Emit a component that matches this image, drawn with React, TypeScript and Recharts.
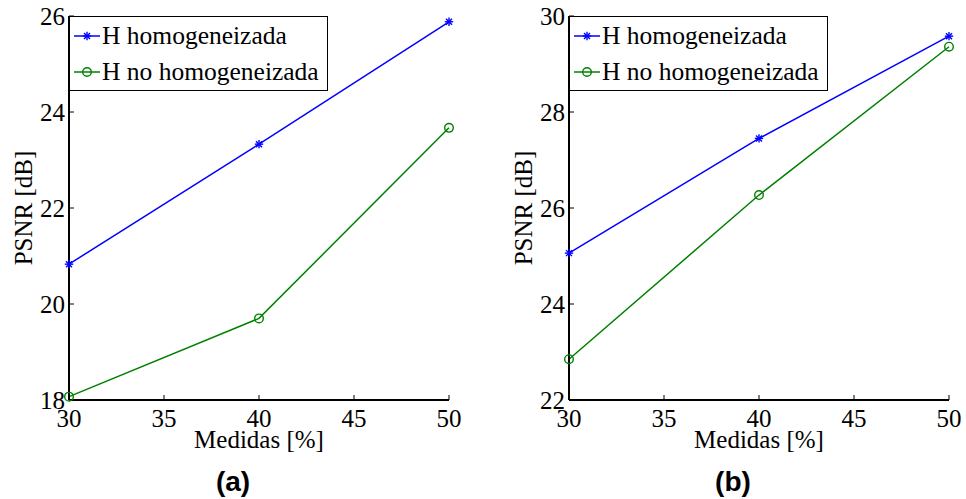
import React from 'react';
import { LineChart, Line, XAxis, YAxis, Legend } from 'recharts';

// values
const medidas = [30, 40, 50];
const homogA = [20.83, 23.33, 25.88];
const noHomogA = [18.07, 19.7, 23.67];
const homogB = [25.06, 27.45, 29.58];
const noHomogB = [22.85, 26.27, 29.36];

const xTicks = [30, 35, 40, 45, 50];
const yTicksA = [18, 20, 22, 24, 26];
const yTicksB = [22, 24, 26, 28, 30];

const BLUE = '#0000ff';
const GREEN = '#008000';
const FONT = "'Liberation Serif', 'Times New Roman', serif";

const series = [
  { key: 'homog', name: 'H homogeneizada', color: BLUE, marker: 'star' },
  { key: 'noHomog', name: 'H no homogeneizada', color: GREEN, marker: 'circle' },
];

const buildRows = (homog: number[], noHomog: number[]) =>
  medidas.map((x, i) => ({ x, homog: homog[i], noHomog: noHomog[i] }));

const Marker = ({ cx, cy, color, type }: any) => {
  if (cx == null || cy == null) return null;
  if (type === 'circle') {
    return <circle cx={cx} cy={cy} r={4.3} fill="none" stroke={color} strokeWidth={1.4} />;
  }
  const r = 4.2;
  const d = 3;
  return (
    <g stroke={color} strokeWidth={1.4}>
      <line x1={cx - r} y1={cy} x2={cx + r} y2={cy} />
      <line x1={cx} y1={cy - r} x2={cx} y2={cy + r} />
      <line x1={cx - d} y1={cy - d} x2={cx + d} y2={cy + d} />
      <line x1={cx - d} y1={cy + d} x2={cx + d} y2={cy - d} />
    </g>
  );
};

const renderLegend = (props: any) => {
  const { payload } = props;
  return (
    <div
      style={{
        width: 259,
        height: 75,
        boxSizing: 'border-box',
        border: '1px solid #000',
        background: '#fff',
        paddingTop: 1,
        fontFamily: FONT,
        fontSize: 25.5,
        color: '#000',
      }}
    >
      {(payload || []).map((entry: any) => {
        const s = series.find((it) => it.key === entry.dataKey) || series[0];
        return (
          <div key={s.key} style={{ display: 'flex', alignItems: 'center', height: 36 }}>
            <svg width={27} height={36} style={{ marginLeft: 4, flex: 'none' }}>
              <line x1={0} y1={18} x2={26} y2={18} stroke={s.color} strokeWidth={1.5} />
              <Marker cx={13} cy={18} color={s.color} type={s.marker} />
            </svg>
            <span style={{ marginLeft: 1, lineHeight: '36px', whiteSpace: 'nowrap' }}>{entry.value}</span>
          </div>
        );
      })}
    </div>
  );
};

const tickStyle = { fill: '#000', fontSize: 25, fontFamily: FONT };

function Panel({ rows, yTicks, letter, left }: any) {
  const yDomain = [yTicks[0], yTicks[yTicks.length - 1]];
  return (
    <div style={{ position: 'absolute', left, top: 0, width: 466, height: 499 }}>
      <LineChart width={466} height={499} data={rows} margin={{ top: 16, right: 17, left: 0, bottom: 51 }}>
        <XAxis
          dataKey="x"
          type="number"
          domain={[30, 50]}
          ticks={xTicks}
          interval={0}
          height={48}
          tickSize={-5}
          tickMargin={14}
          tick={tickStyle}
          axisLine={{ stroke: '#000', strokeWidth: 2 }}
          tickLine={{ stroke: '#000' }}
          label={{ value: 'Medidas [%]', position: 'insideBottom', offset: 0, fill: '#000', fontSize: 25, fontFamily: FONT }}
        />
        <XAxis
          xAxisId="top"
          dataKey="x"
          type="number"
          orientation="top"
          mirror
          domain={[30, 50]}
          ticks={xTicks}
          interval={0}
          height={0}
          tick={false}
          tickSize={5}
          axisLine={{ stroke: '#000', strokeWidth: 1 }}
          tickLine={{ stroke: '#000' }}
        />
        <YAxis
          type="number"
          domain={yDomain}
          ticks={yTicks}
          interval={0}
          width={69}
          tickSize={-5}
          tickMargin={9}
          tick={tickStyle}
          axisLine={{ stroke: '#000', strokeWidth: 2 }}
          tickLine={{ stroke: '#000' }}
          label={{
            value: 'PSNR [dB]',
            angle: -90,
            position: 'insideLeft',
            offset: 23,
            fill: '#000',
            fontSize: 25,
            fontFamily: FONT,
            style: { textAnchor: 'middle' },
          }}
        />
        <YAxis
          yAxisId="right"
          type="number"
          orientation="right"
          mirror
          domain={yDomain}
          ticks={yTicks}
          interval={0}
          width={0}
          tick={false}
          tickSize={5}
          axisLine={{ stroke: '#000', strokeWidth: 1 }}
          tickLine={{ stroke: '#000' }}
        />
        <Legend
          layout="vertical"
          align="center"
          verticalAlign="middle"
          content={renderLegend}
          wrapperStyle={{ left: 69, top: 16, width: 259, height: 75 }}
        />
        {series.map((s) => (
          <Line
            key={s.key}
            dataKey={s.key}
            name={s.name}
            stroke={s.color}
            strokeWidth={1.5}
            isAnimationActive={false}
            dot={(p: any) => <Marker key={`${s.key}-${p.index}`} cx={p.cx} cy={p.cy} color={s.color} type={s.marker} />}
            activeDot={false}
          />
        ))}
      </LineChart>
      <div
        style={{
          position: 'absolute',
          left: 0,
          width: 466,
          top: 467,
          textAlign: 'center',
          fontFamily: "'Liberation Sans', Arial, sans-serif",
          fontWeight: 'bold',
          fontSize: 28,
          lineHeight: '30px',
          color: '#000',
        }}
      >
        {letter}
      </div>
    </div>
  );
}

export default function App() {
  return (
    <div style={{ position: 'absolute', left: 0, top: 0, width: 966, height: 499, background: '#fff', overflow: 'hidden' }}>
      <Panel rows={buildRows(homogA, noHomogA)} yTicks={yTicksA} letter="(a)" left={0} />
      <Panel rows={buildRows(homogB, noHomogB)} yTicks={yTicksB} letter="(b)" left={500} />
    </div>
  );
}
